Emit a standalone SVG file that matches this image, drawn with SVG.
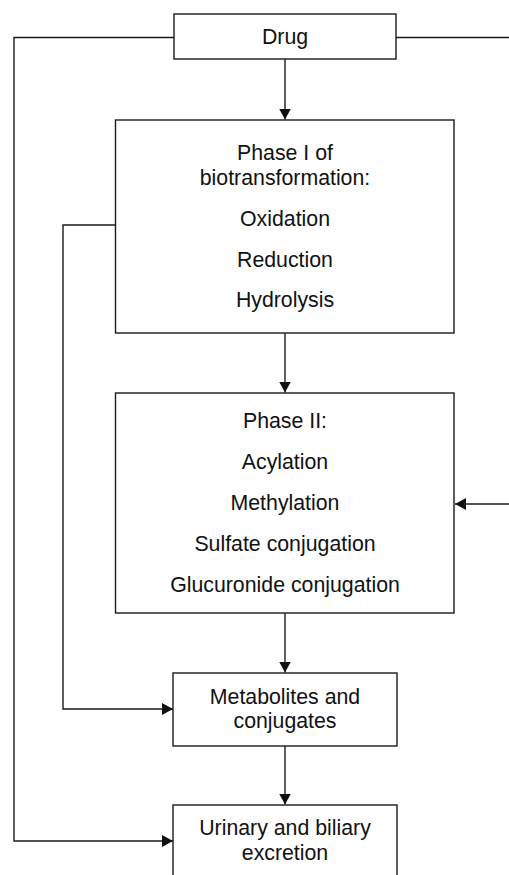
<svg xmlns="http://www.w3.org/2000/svg" width="509" height="875" viewBox="0 0 509 875">
<style>
.box{fill:#fff;stroke:#1a1a1a;stroke-width:1.4}
.edge{fill:none;stroke:#1a1a1a;stroke-width:1.4}
text{font-family:"Liberation Sans",Arial,sans-serif;font-size:21.3px;fill:#111;text-anchor:middle}
</style>
<defs>
<marker id="arr" markerUnits="userSpaceOnUse" markerWidth="12" markerHeight="12" refX="11" refY="6" orient="auto">
<path d="M0,0 L11,6 L0,12 z" fill="#111"/>
</marker>
</defs>
<rect width="509" height="875" fill="#fff"/>
<g id="connectors">
<path class="edge" d="M174,37.5 H14 V841 H173" marker-end="url(#arr)"/>
<path class="edge" d="M396,37.5 H515 V504 H455" marker-end="url(#arr)"/>
<path class="edge" d="M285,59 V119.5" marker-end="url(#arr)"/>
<path class="edge" d="M115.5,225 H63 V709 H173" marker-end="url(#arr)"/>
<path class="edge" d="M285,333 V392.5" marker-end="url(#arr)"/>
<path class="edge" d="M285,613 V672.5" marker-end="url(#arr)"/>
<path class="edge" d="M285,746 V804.5" marker-end="url(#arr)"/>
</g>
<g id="drug">
<rect class="box" x="174" y="14" width="222" height="45"/>
<text x="285" y="44.3">Drug</text>
</g>
<g id="phase1">
<rect class="box" x="115.5" y="120" width="338.5" height="213"/>
<text x="285" y="160">Phase I of</text>
<text x="285" y="185">biotransformation:</text>
<text x="285" y="226">Oxidation</text>
<text x="285" y="267">Reduction</text>
<text x="285" y="307">Hydrolysis</text>
</g>
<g id="phase2">
<rect class="box" x="115.5" y="393" width="338.5" height="220"/>
<text x="285" y="428">Phase II:</text>
<text x="285" y="469">Acylation</text>
<text x="285" y="510">Methylation</text>
<text x="285" y="551">Sulfate conjugation</text>
<text x="285" y="592">Glucuronide conjugation</text>
</g>
<g id="metabolites">
<rect class="box" x="173" y="673" width="224" height="73"/>
<text x="285" y="704">Metabolites and</text>
<text x="285" y="728">conjugates</text>
</g>
<g id="excretion">
<rect class="box" x="173" y="805" width="224" height="85"/>
<text x="285" y="835">Urinary and biliary</text>
<text x="285" y="860">excretion</text>
</g>
</svg>
